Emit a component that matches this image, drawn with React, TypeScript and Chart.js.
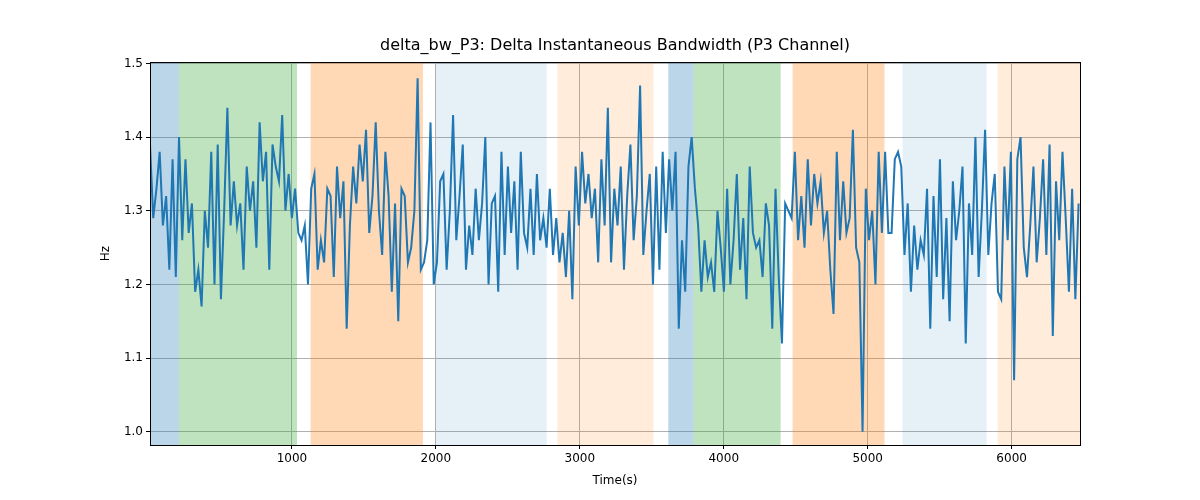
import React, { useEffect, useRef } from "react";
import { Chart, registerables } from "chart.js";
Chart.register(...registerables);

const startTime = 14;
const stepTime = 22.4;
const values = [
1.39,1.29,1.33,1.38,1.28,1.32,1.22,1.37,1.21,
1.40,1.26,1.37,1.27,1.31,1.19,1.22,1.17,1.30,1.25,1.38,1.20,1.39,1.18,1.30,1.44,1.28,1.34,1.28,1.31,1.22,1.36,1.30,1.34,1.25,1.42,1.34,1.38,1.22,1.39,1.36,1.34,1.43,1.30,1.35,1.29,1.33,
1.27,1.26,1.28,1.20,
1.33,1.35,1.22,1.26,1.23,1.33,1.32,1.21,1.36,1.29,1.34,1.14,1.28,1.36,1.31,1.39,1.34,1.41,1.27,1.32,1.42,1.30,1.24,1.38,1.32,1.19,1.31,1.15,1.33,1.32,1.23,1.25,1.30,1.48,1.22,
1.23,1.26,1.42,1.20,
1.23,1.34,1.35,1.22,1.30,1.43,1.26,1.32,1.39,1.22,1.28,1.24,1.33,1.26,1.31,1.40,1.20,1.31,1.32,1.19,1.38,1.24,1.36,1.27,1.34,1.22,1.38,1.27,1.25,1.33,1.24,1.35,1.26,1.29,1.25,
1.33,1.24,1.29,
1.23,1.27,1.21,1.30,1.18,1.36,1.28,1.38,1.31,1.35,1.29,1.33,1.23,1.37,1.28,1.44,1.23,1.33,1.28,1.36,1.22,1.32,1.39,1.26,1.32,1.47,1.24,1.30,1.35,1.20,
1.36,1.22,1.38,1.27,
1.37,1.30,1.38,1.14,1.26,1.19,1.36,1.40,1.33,
1.28,1.19,1.26,1.21,1.23,1.19,1.30,1.25,1.19,1.33,1.20,1.26,1.35,1.22,1.29,1.18,1.36,1.27,1.25,1.26,1.21,1.31,1.28,1.14,1.33,1.21,1.12,
1.31,1.30,1.29,
1.38,1.26,1.32,1.25,1.37,1.28,1.35,1.31,1.34,1.27,1.30,1.22,1.16,1.38,1.26,1.34,1.27,1.29,1.41,1.25,1.23,1.00,1.33,1.26,1.30,1.20,1.38,1.27,
1.38,1.27,1.27,1.37,1.38,1.36,
1.24,1.31,1.19,1.28,1.22,1.26,1.24,1.33,1.14,1.32,1.21,1.37,1.18,1.29,1.15,1.34,1.26,1.30,1.36,1.12,1.31,1.24,1.40,1.21,1.30,1.41,
1.24,1.31,1.35,
1.19,1.18,1.36,1.26,1.38,1.07,1.37,1.40,1.25,1.21,1.28,1.36,1.23,1.29,1.37,1.24,1.39,1.13,1.34,1.26,1.38,1.29,1.19,1.33,1.18,1.31,
];

const spanStarts = [14, 215, 1130, 2000, 2845, 3615, 3790, 4478, 5242, 5903];
const spanEnds = [215, 1035, 1910, 2770, 3512, 3790, 4395, 5117, 5826, 6475];
const spanColors = [
  "rgba(31,119,180,0.3)", "rgba(44,160,44,0.3)", "rgba(255,127,14,0.3)",
  "rgba(31,119,180,0.11)", "rgba(255,127,14,0.15)",
  "rgba(31,119,180,0.3)", "rgba(44,160,44,0.3)", "rgba(255,127,14,0.3)",
  "rgba(31,119,180,0.11)", "rgba(255,127,14,0.15)",
];
const xTicks = [1000, 2000, 3000, 4000, 5000, 6000];
const yTicks = [1.0, 1.1, 1.2, 1.3, 1.4, 1.5];
const titleText = "delta_bw_P3: Delta Instantaneous Bandwidth (P3 Channel)";
const xTitle = "Time(s)";
const yTitle = "Hz";

export default function App() {
  const ref = useRef<HTMLCanvasElement>(null);
  useEffect(() => {
    const spans = {
      id: "spans",
      beforeDatasetsDraw(c: any) {
        const { ctx, chartArea: a, scales } = c;
        ctx.save();
        ctx.beginPath(); ctx.rect(a.left, a.top, a.width, a.height); ctx.clip();
        spanStarts.forEach((s, i) => {
          const x0 = scales.x.getPixelForValue(s), x1 = scales.x.getPixelForValue(spanEnds[i]);
          ctx.fillStyle = spanColors[i];
          ctx.fillRect(x0, a.top, x1 - x0, a.height);
        });
        ctx.restore();
      },
      afterDraw(c: any) {
        const { ctx, chartArea: a } = c;
        ctx.save();
        ctx.strokeStyle = "#000"; ctx.lineWidth = 1;
        ctx.strokeRect(a.left + 0.5, a.top + 0.5, a.width, a.height);
        ctx.fillStyle = "#000"; ctx.textAlign = "center"; ctx.textBaseline = "middle";
        ctx.font = "16px 'DejaVu Sans'";
        ctx.fillText(titleText, (a.left + a.right) / 2, 46);
        ctx.font = "12px 'DejaVu Sans'";
        ctx.fillText(xTitle, (a.left + a.right) / 2, 481);
        ctx.translate(106, (a.top + a.bottom) / 2); ctx.rotate(-Math.PI / 2);
        ctx.fillText(yTitle, 0, 0);
        ctx.restore();
      },
    };
    const chart = new Chart(ref.current!, {
      type: "line",
      data: { datasets: [{ data: values.map((v, i) => ({ x: startTime + i * stepTime, y: v })), borderColor: "#1f77b4", borderWidth: 2, pointRadius: 0, tension: 0 }] },
      options: {
        animation: false, responsive: false,
        layout: { padding: { left: 0, right: 120, top: 62, bottom: 0 } },
        plugins: { legend: { display: false }, tooltip: { enabled: false } },
        scales: {
          x: {
            type: "linear", min: 14, max: 6475,
            afterBuildTicks: (s: any) => { s.ticks = xTicks.map(v => ({ value: v })); },
            afterFit: (s: any) => { s.height = 55; },
            grid: { color: "#b0b0b0", tickColor: "#000", tickLength: 4, drawTicks: true },
            border: { display: false },
            ticks: { color: "#000", font: { family: "DejaVu Sans", size: 12 }, maxRotation: 0, padding: 3, callback: (v: any) => String(v) },
          },
          y: {
            min: 0.982, max: 1.502,
            afterBuildTicks: (s: any) => { s.ticks = yTicks.map(v => ({ value: v })); },
            afterFit: (s: any) => { s.width = 150; },
            grid: { color: "#b0b0b0", tickColor: "#000", tickLength: 4 },
            border: { display: false },
            ticks: { color: "#000", font: { family: "DejaVu Sans", size: 12 }, callback: (v: any) => Number(v).toFixed(1), padding: 3 },
          },
        },
      },
      plugins: [spans],
    } as any);
    return () => chart.destroy();
  }, []);
  return <div style={{ position: "absolute", left: 0, top: 0 }}><canvas ref={ref} width={1200} height={500} style={{ width: 1200, height: 500 }} /></div>;
}
